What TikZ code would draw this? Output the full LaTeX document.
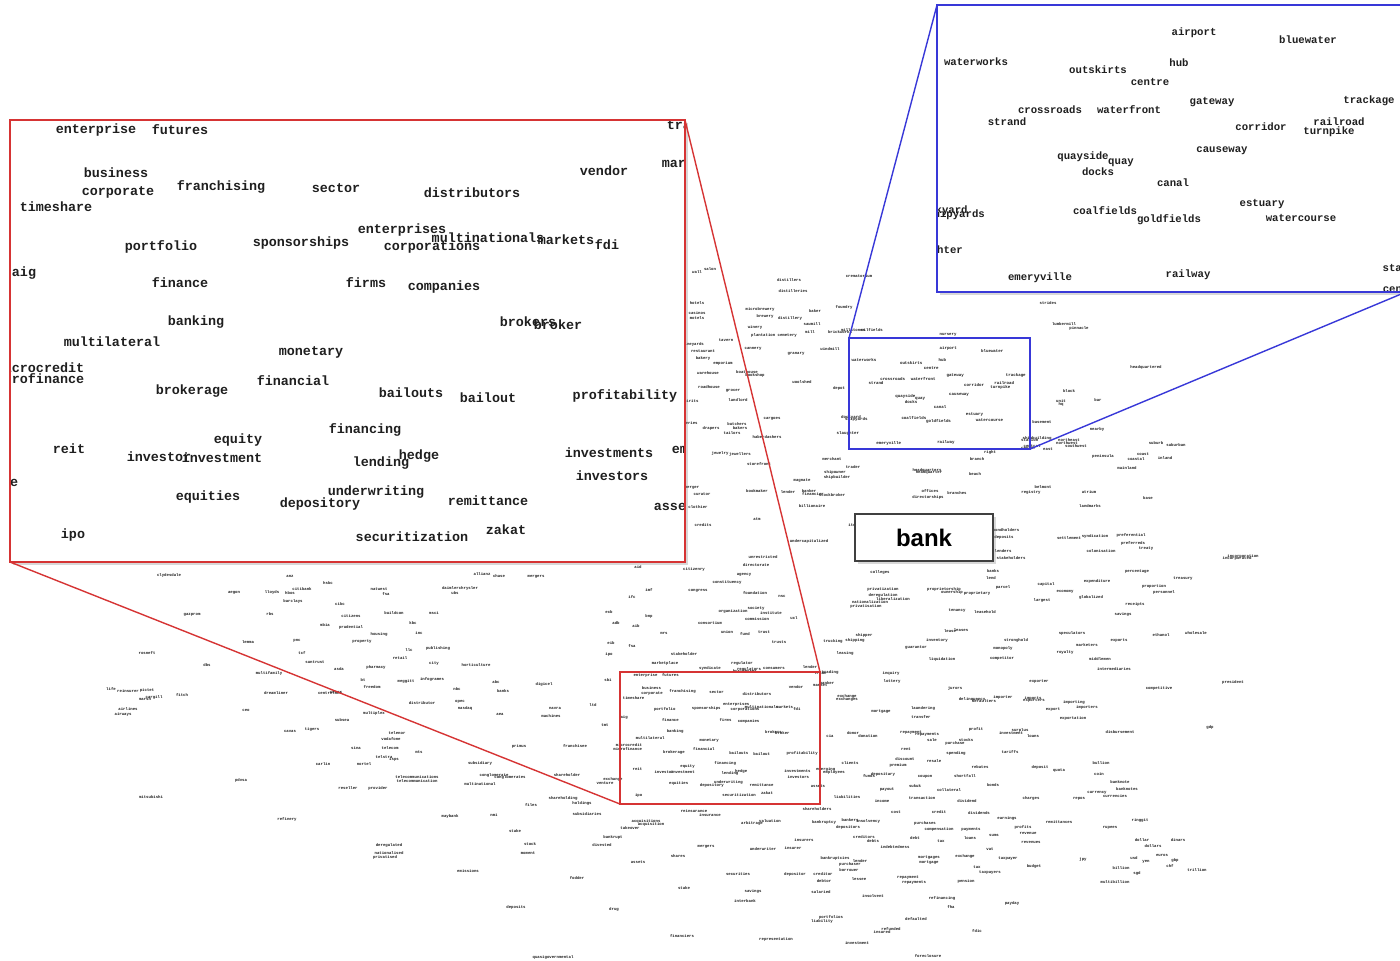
\documentclass[tikz,border=0pt]{standalone}
\usepackage{fontspec}
\newfontfamily\wordfont{Liberation Mono}
\newfontfamily\bankfont{Liberation Sans}
\usetikzlibrary{shadows}
\definecolor{insetred}{RGB}{214,52,52}
\definecolor{insetblue}{RGB}{56,56,216}
\newcommand\bglist{697/272/wall, 710/269/salon, 789/280/distillers, 793/291/distilleries, 859/276/crematorium, 760/309/microbrewery, 765/316/brewery, 815/311/baker, 844/307/foundry, 790/318/distillery, 812/324/sawmill, 810/332/mill, 755/327/winery, 774/335/plantation cemetery, 840/332/brickworks, 853/330/millstones, 872/330/oilfields, 726/340/tavern, 753/349/cannery, 796/354/granary, 830/349/windmill, 693/344/vineyards, 703/351/restaurant, 703/358/bakery, 723/363/emporium, 708/373/warehouse, 747/372/boathouse, 755/375/bookshop, 802/382/woolshed, 709/387/roadhouse, 733/391/grocer, 738/400/landlord, 839/388/depot, 690/401/spirits, 772/419/cargoes, 688/423/liveries, 711/428/drapers, 737/424/butchers, 740/428/bakers, 732/433/tailors, 767/437/haberdashers, 720/453/jewelry, 740/454/jewellers, 759/464/storefront, 832/459/merchant, 853/467/trader, 835/472/shipowner, 837/477/shipbuilder, 927/470/headquarters, 929/472/headquarter, 977/459/branch, 990/452/right, 975/474/beach, 930/491/offices, 928/497/directorships, 957/493/branches, 802/481/magnate, 757/491/bookmaker, 788/492/lender, 809/491/banker, 813/494/financier, 832/495/stockbroker, 812/506/billionaire, 692/488/merger, 702/494/curator, 698/507/clothier, 697/303/hotels, 697/313/casinos, 697/318/motels, 948/335/nursery, 1048/303/strides, 1064/324/lumbermill, 1079/328/pinnacle, 1146/367/headquartered, 1069/391/block, 1061/401/unit, 1061/404/hq, 1098/400/bar, 1042/422/basement, 1097/429/nearby, 1037/438/shipbuilding, 1069/440/northeast, 1067/443/northwest, 1076/446/southwest, 1032/446/central, 1048/449/east, 1103/456/peninsula, 1143/454/coast, 1136/459/coastal, 1156/443/suburb, 1176/445/suburban, 1165/458/inland, 1127/468/mainland, 1043/487/belmont, 1031/492/registry, 1089/492/atrium, 1090/506/landmarks, 1148/498/base, 1006/530/bondholders, 1004/537/deposits, 1003/551/lenders, 1011/558/stakeholders, 1069/538/settlement, 1095/536/syndication, 1131/535/preferential, 1133/543/preferreds, 1101/551/colonisation, 1146/549/treaty, 1243/556/incorporation, 1237/558/incorporated, 703/525/credits, 757/519/atm, 809/541/undercapitalized, 852/525/itc, 763/557/unrestricted, 756/565/directorate, 744/575/agency, 727/582/constituency, 755/593/foundation, 782/596/nsc, 698/591/congress, 733/611/organization, 756/608/society, 771/613/institute, 757/619/commission, 794/618/ucl, 710/623/consortium, 727/632/union, 745/634/fund, 764/632/trust, 779/642/trusts, 684/654/stakeholder, 665/663/marketplace, 710/668/syndicate, 742/663/regulator, 749/669/regulators, 774/668/consumers, 810/667/lender, 830/672/trading, 827/683/banker, 638/567/aid, 649/590/imf, 632/597/ifc, 694/569/citizenry, 609/612/ecb, 616/623/adb, 636/626/aib, 649/616/bnp, 664/633/mrs, 611/643/eib, 632/646/fsa, 609/654/ipo, 608/680/sbi, 605/725/tmt, 605/783/venture, 880/572/colleges, 993/571/banks, 991/578/lend, 1003/587/parcel, 883/589/privatization, 883/595/deregulation, 893/599/liberalization, 870/602/nationalization, 866/606/privatisation, 944/589/proprietorship, 952/592/ownership, 977/593/proprietary, 957/611/tenancy, 985/612/leasehold, 1046/584/capital, 1065/592/economy, 1091/597/globalized, 1042/600/largest, 1097/581/expenditure, 1137/572/percentage, 1154/586/proportion, 1164/592/personnel, 1183/579/treasury, 1135/604/receipts, 1123/614/savings, 864/635/shipper, 855/640/shipping, 833/641/trucking, 845/653/leasing, 937/640/inventory, 916/648/guarantor, 950/631/lease, 961/630/leases, 942/659/liquidation, 1016/640/stronghold, 1003/648/monopoly, 1002/658/competitor, 1072/633/speculators, 1087/645/marketers, 1065/652/royalty, 1119/641/exports, 1161/635/ethanol, 1196/633/wholesale, 1100/659/middlemen, 1114/669/intermediaries, 891/673/inquiry, 892/681/lottery, 955/688/jurors, 1039/682/exporter, 1159/688/competitive, 1233/682/president, 847/696/exchange, 847/699/exchanges, 972/699/delinquency, 984/701/defaulters, 1003/697/importer, 1033/698/imports, 1034/701/exporters, 1074/702/importing, 1087/707/importers, 1053/710/export, 1073/718/exportation, 881/712/mortgage, 923/708/laundering, 921/717/transfer, 830/736/cia, 853/733/donor, 868/736/donation, 911/733/repayment, 927/735/repayments, 932/740/sale, 955/743/purchase, 966/740/stocks, 976/729/profit, 1011/733/investment, 1020/730/surplus, 1033/736/loans, 1120/732/disbursement, 1210/727/gdp, 906/749/rent, 956/753/spending, 1010/752/tariffs, 1101/763/bullion, 1099/774/coin, 1120/782/banknote, 1127/789/banknotes, 1097/793/currency, 1115/796/currencies, 1079/799/repos, 1040/767/deposit, 1059/771/quota, 905/759/discount, 898/765/premium, 934/761/resale, 980/767/rebates, 965/776/shortfall, 850/763/clients, 834/772/employees, 869/776/funds, 883/774/depositary, 925/777/coupon, 993/785/bonds, 915/786/sukuk, 887/790/payout, 949/790/collateral, 922/798/transaction, 967/801/dividend, 882/801/income, 847/797/liabilities, 1031/798/charges, 817/809/shareholders, 694/811/reinsurance, 710/815/insurance, 646/821/acquisitions, 651/824/acquisition, 630/828/takeover, 752/823/arbitrage, 770/821/valuation, 824/822/bankruptcy, 850/820/bankers, 868/821/insolvency, 848/827/depositors, 896/812/cost, 939/812/credit, 979/813/dividends, 1007/818/earnings, 1023/827/profits, 1028/833/revenue, 1031/842/revenues, 925/823/purchases, 939/829/compensation, 971/830/payments, 970/838/loans, 994/835/sums, 1059/822/remittances, 1140/820/ringgit, 1110/828/rupees, 1142/840/dollar, 1153/846/dollars, 1178/840/dinars, 1162/855/euros, 1134/858/usd, 1146/862/yen, 1175/860/gbp, 1170/866/chf, 1121/868/billion, 1197/870/trillion, 1083/859/jpy, 1137/873/sgd, 1115/882/multibillion, 864/837/creditors, 873/841/debts, 915/838/debt, 941/841/tax, 990/849/vat, 804/840/insurers, 763/849/underwriter, 793/848/insurer, 895/847/indebtedness, 835/858/bankruptcies, 860/861/lender, 850/864/purchaser, 849/870/borrower, 859/879/lessee, 929/858/mortgages, 929/863/mortgage, 965/856/exchange, 977/867/tax, 1008/859/taxpayer, 990/873/taxpayers, 1034/866/budget, 908/878/repayment, 914/883/repayments, 966/881/pension, 738/874/securities, 795/874/depositor, 823/874/creditor, 824/881/debtor, 684/888/stake, 753/891/savings, 745/901/interbank, 821/892/salaried, 873/896/insolvent, 942/898/refinancing, 951/907/fha, 1012/903/payday, 831/917/portfolios, 822/921/liability, 916/919/defaulted, 891/929/refunded, 882/932/insured, 977/931/fdic, 614/909/drug, 682/936/financiers, 776/939/representation, 857/943/investment, 928/956/foreclosure, 678/856/shares, 638/862/assets, 706/847/mergers, 169/575/clydesdale, 290/576/anz, 328/583/hsbc, 379/589/natwest, 386/594/fsa, 460/588/daimlerchrysler, 455/593/ubs, 482/574/allianz, 499/576/chase, 536/577/mergers, 293/601/barclays, 302/589/citibank, 272/592/lloyds, 290/593/hbos, 234/593/aegon, 340/604/cibc, 270/614/rbs, 351/616/citizens, 192/615/gazprom, 147/653/rosneft, 207/665/dbs, 248/642/lemma, 297/641/pnc, 302/653/tcf, 315/662/suntrust, 325/625/mbia, 351/627/prudential, 379/634/housing, 362/642/property, 413/623/kbc, 434/613/msci, 394/613/buildcon, 419/633/inc, 409/650/llc, 438/648/publishing, 400/658/retail, 434/663/city, 476/665/horticulture, 376/667/pharmacy, 339/669/asda, 269/673/multifamily, 363/680/bt, 372/687/freedom, 406/681/meggitt, 432/679/infogrames, 457/689/nbc, 503/691/banks, 544/684/digicel, 496/682/abc, 276/693/dreamliner, 330/693/centrelink, 422/703/distributor, 460/702/opec, 465/708/nasdaq, 500/714/aea, 555/708/navra, 551/716/machines, 593/705/ltd, 374/713/multiplex, 342/720/subsea, 290/731/cavas, 312/729/tigers, 397/733/telenor, 391/739/vodafone, 390/748/telecom, 384/757/telstra, 394/759/isps, 356/748/sina, 419/752/mts, 480/763/subsidiary, 519/746/primus, 575/746/franchisee, 323/764/carlin, 364/764/nortel, 417/777/telecommunications, 417/781/telecommunication, 494/775/conglomerate, 510/777/conglomerates, 480/784/multinational, 348/788/reseller, 378/788/provider, 567/775/shareholder, 241/780/pdvsa, 151/797/mitsubishi, 563/798/shareholding, 582/803/holdings, 531/805/files, 587/814/subsidiaries, 450/816/maybank, 494/815/nmi, 287/819/refinery, 515/831/stake, 613/837/bankrupt, 602/845/divested, 530/844/stock, 528/853/moment, 389/845/deregulated, 389/853/nationalised, 385/857/privatised, 468/871/emissions, 577/878/fodder, 516/907/deposits, 553/957/quasigovernmental, 111/689/life, 128/691/reinsurer, 147/690/pictet, 145/699/marsh, 154/697/cargill, 182/695/fitch, 128/709/airlines, 123/714/airways, 246/710/ceo, 336/692/cemex}
\newcommand\redlist{86/10/enterprise, 170/10/futures, 421/-4/businesses, 677/5/trade, 106/53/business, 108/72/corporate, 211/67/franchising, 326/68/sector, 462/73/distributors, 594/51/vendor, 676/43/market, 46/87/timeshare, 392/110/enterprises, 478/118/multinationals, 556/120/markets, 597/125/fdi, 422/127/corporations, 151/127/portfolio, 291/123/sponsorships, 14/153/aig, 170/163/finance, 356/163/firms, 434/167/companies, 186/202/banking, 518/202/brokers, 548/205/broker, 102/222/multilateral, 301/232/monetary, 30/248/microcredit, 26/259/microfinance, 182/271/brokerage, 283/261/financial, 401/273/bailouts, 478/278/bailout, 615/276/profitability, 355/310/financing, 228/320/equity, 59/329/reit, 149/337/investor, 212/338/investment, 409/336/hedge, 371/343/lending, 599/333/investments, 694/330/emerging, 602/356/investors, -24/363/exchange, 366/372/underwriting, 310/384/depository, 478/381/remittance, 198/377/equities, 668/386/assets, 496/410/zakat, 63/415/ipo, 402/417/securitization}
\newcommand\bluelist{257/28/airport, 371/35/bluewater, 39/57/waterworks, 161/65/outskirts, 242/58/hub, 213/77/centre, 432/96/trackage, 275/97/gateway, 113/105/crossroads, 192/105/waterfront, 70/117/strand, 324/122/corridor, 402/117/railroad, 392/127/turnpike, 285/146/causeway, 146/152/quayside, 184/158/quay, 161/167/docks, 236/178/canal, 325/199/estuary, 5/206/dockyard, 19/210/shipyards, 168/206/coalfields, 232/215/goldfields, 364/213/watercourse, -3/246/slaughter, 103/273/emeryville, 251/270/railway, 468/263/station, 465/284/center}
\tikzset{
  wordbase/.style={inner sep=0pt, text=black!88},
  tinyword/.style={wordbase, font=\wordfont\bfseries\fontsize{2pt}{2.4pt}\selectfont},
  redbigword/.style={wordbase, font=\wordfont\bfseries\fontsize{6.7pt}{8pt}\selectfont},
  redsmallword/.style={wordbase, font=\wordfont\bfseries\fontsize{1.99pt}{2.4pt}\selectfont},
  bluebigword/.style={wordbase, font=\wordfont\bfseries\fontsize{5.33pt}{6.4pt}\selectfont},
  bluesmallword/.style={wordbase, font=\wordfont\bfseries\fontsize{2.06pt}{2.4pt}\selectfont},
  frame/.style={inner sep=0pt, outer sep=0pt},
  redframe/.style={frame, draw=insetred, line width=1pt},
  blueframe/.style={frame, draw=insetblue, line width=1pt},
  redlink/.style={draw=insetred, line width=0.7pt},
  bluelink/.style={draw=insetblue, line width=0.7pt},
  softshadow/.style={drop shadow={shadow xshift=1.3pt, shadow yshift=-1.3pt, opacity=0.3}},
}
\begin{document}
\begin{tikzpicture}[x=0.5pt,y=-0.5pt]
\useasboundingbox (0,0) rectangle (1400,960);
\fill[white] (0,0) rectangle (1400,960);
% background words
\foreach \x/\y/\wtxt [count=\i] in \bglist {\node[tinyword] (bg\i) at (\x,\y) {\wtxt};}
% small inset contents (same words as the magnified views)
\begin{scope}[shift={(620,672)},scale=0.2963]
  \foreach \x/\y/\wtxt [count=\i] in \redlist {\node[redsmallword] (rs\i) at (\x,\y) {\wtxt};}
\end{scope}
\begin{scope}[shift={(849,338)},scale=0.3861]
  \foreach \x/\y/\wtxt [count=\i] in \bluelist {\node[bluesmallword] (bs\i) at (\x,\y) {\wtxt};}
\end{scope}
% small frames
\node[redframe, minimum width=100pt, minimum height=66pt] (redsmall) at (720,738) {};
\node[blueframe, minimum width=90.5pt, minimum height=55.5pt] (bluesmall) at (939.5,393.5) {};
% bank box
\node[draw=black!75, line width=0.9pt, fill=white, softshadow, minimum width=69pt, minimum height=23.5pt, font=\bankfont\bfseries\fontsize{12pt}{14pt}\selectfont] (bank) at (924,537.5) {bank};
% magnified frames
\node[redframe, fill=white, softshadow, minimum width=337.5pt, minimum height=221pt] (redbig) at (347.5,341) {};
\node[blueframe, fill=white, softshadow, minimum width=234.5pt, minimum height=143.5pt] (bluebig) at (1171.5,148.5) {};
\begin{scope}
  \clip (redbig.south west) rectangle (redbig.north east);
  \begin{scope}[shift={(redbig.north west)}]
    \foreach \x/\y/\wtxt [count=\i] in \redlist {\node[redbigword] (rb\i) at (\x,\y) {\wtxt};}
  \end{scope}
\end{scope}
\begin{scope}
  \clip (bluebig.south west) rectangle (bluebig.north east);
  \begin{scope}[shift={(bluebig.north west)}]
    \foreach \x/\y/\wtxt [count=\i] in \bluelist {\node[bluebigword] (bb\i) at (\x,\y) {\wtxt};}
  \end{scope}
\end{scope}
\draw[insetred, line width=1pt] (redbig.south west) rectangle (redbig.north east);
\draw[insetblue, line width=1pt] (bluebig.south west) rectangle (bluebig.north east);
% connectors
\draw[redlink] (redbig.south west) -- (redsmall.south west);
\draw[redlink] (redbig.north east) -- (redsmall.north east);
\draw[bluelink] (bluebig.north west) -- (bluesmall.north west);
\draw[bluelink] (bluesmall.south east) -- (bluebig.south east);
\end{tikzpicture}
\end{document}
